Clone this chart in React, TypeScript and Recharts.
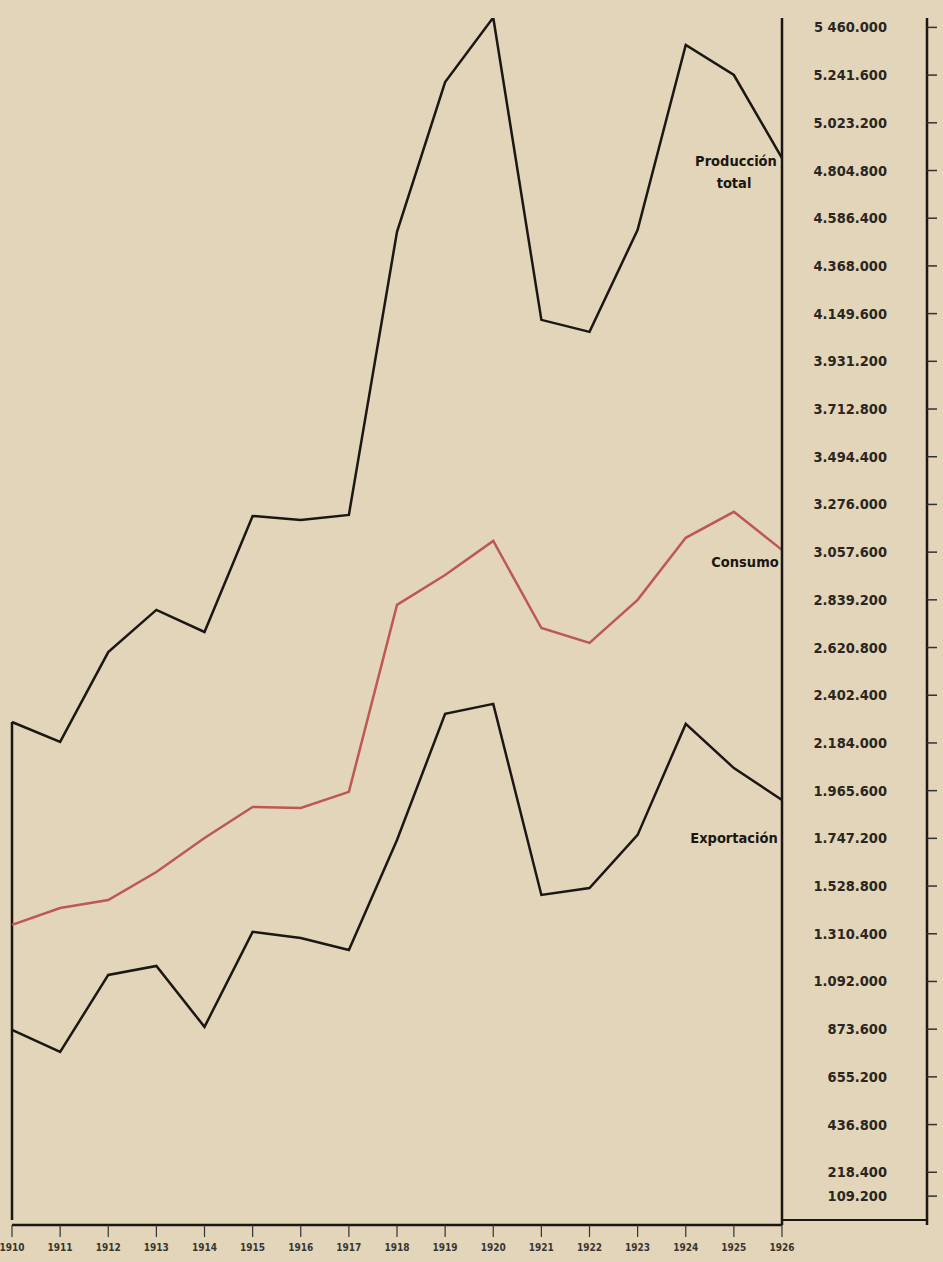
import React from "react";
import {
  LineChart,
  Line,
  XAxis,
  YAxis,
  ReferenceLine,
  LabelList,
} from "recharts";

const years = [
  "1910", "1911", "1912", "1913", "1914", "1915", "1916", "1917", "1918",
  "1919", "1920", "1921", "1922", "1923", "1924", "1925", "1926",
];
const produccion = [
  2280000, 2189000, 2600000, 2793000, 2692000, 3223000, 3205000, 3228000,
  4524000, 5210000, 5505000, 4121000, 4066000, 4533000, 5380000, 5242000,
  4862000,
];
const consumo = [
  1351000, 1428000, 1465000, 1593000, 1749000, 1891000, 1886000, 1960000,
  2816000, 2953000, 3109000, 2710000, 2642000, 2839000, 3123000, 3242000,
  3068000,
];
const exportacion = [
  870000, 769000, 1122000, 1163000, 884000, 1319000, 1291000, 1236000,
  1740000, 2317000, 2363000, 1488000, 1520000, 1763000, 2271000, 2069000,
  1923000,
];
const yTicks = [
  109200, 218400, 436800, 655200, 873600, 1092000, 1310400, 1528800,
  1747200, 1965600, 2184000, 2402400, 2620800, 2839200, 3057600, 3276000,
  3494400, 3712800, 3931200, 4149600, 4368000, 4586400, 4804800, 5023200,
  5241600, 5460000,
];
const yTickLabels = [
  "109.200", "218.400", "436.800", "655.200", "873.600", "1.092.000",
  "1.310.400", "1.528.800", "1.747.200", "1.965.600", "2.184.000",
  "2.402.400", "2.620.800", "2.839.200", "3.057.600", "3.276.000",
  "3.494.400", "3.712.800", "3.931.200", "4.149.600", "4.368.000",
  "4.586.400", "4.804.800", "5.023.200", "5.241.600", "5 460.000",
];

const data = years.map((year, i) => ({
  year,
  produccion: produccion[i],
  consumo: consumo[i],
  exportacion: exportacion[i],
}));

const ink = "#1a1714";
const paper = "#e3d5b9";
const labelFont = "'DejaVu Sans Condensed', 'DejaVu Sans', sans-serif";

function YTick(props: any) {
  const idx = yTicks.indexOf(props.payload.value);
  return (
    <text
      x={887}
      y={props.y}
      dy={5}
      textAnchor="end"
      fontFamily={labelFont}
      fontWeight="bold"
      fontSize={14.5}
      fill="#2a2622"
    >
      {idx >= 0 ? yTickLabels[idx] : ""}
    </text>
  );
}

function endLabel(lines: string[], dy: number, anchorX: number[]) {
  return (props: any) => {
    if (props.index !== years.length - 1) return null;
    return (
      <g>
        {lines.map((t, k) => (
          <text
            key={t}
            x={props.x - anchorX[k]}
            y={props.y + dy + k * 22}
            textAnchor="middle"
            fontFamily={labelFont}
            fontWeight="bold"
            fontSize={14.5}
            fill={ink}
          >
            {t}
          </text>
        ))}
      </g>
    );
  };
}

export default function App() {
  return (
    <div
      style={{
        position: "absolute",
        left: 0,
        top: 0,
        width: 943,
        height: 1262,
        background: paper,
      }}
    >
      <LineChart
        width={943}
        height={1262}
        data={data}
        margin={{ top: 18, right: 0, bottom: 0, left: 12 }}
      >
        <XAxis
          dataKey="year"
          height={37}
          padding={{ left: 0, right: 0 }}
          interval={0}
          axisLine={{ stroke: ink, strokeWidth: 2.5 }}
          tickLine={{ stroke: "#333", strokeWidth: 1.2 }}
          tickSize={12}
          tickMargin={7}
          tick={{
            fill: "#3a3530",
            fontSize: 10,
            fontWeight: "bold",
            fontFamily: labelFont,
          }}
        />
        <YAxis
          yAxisId="axis"
          orientation="right"
          width={145}
          type="number"
          domain={[-23000, 5503000]}
          allowDataOverflow
          ticks={yTicks}
          interval={0}
          axisLine={{ stroke: ink, strokeWidth: 2.5 }}
          tickLine={false}
          tick={<YTick />}
        />
        <YAxis
          yAxisId="frame"
          orientation="right"
          width={16}
          type="number"
          domain={[-23000, 5503000]}
          allowDataOverflow
          ticks={yTicks}
          interval={0}
          axisLine={{ stroke: ink, strokeWidth: 2.5 }}
          tickLine={{ stroke: "#333", strokeWidth: 1.5 }}
          tickSize={10}
          tick={() => <g />}
        />
        <ReferenceLine
          yAxisId="axis"
          segment={[
            { x: years[0], y: 0 },
            { x: years[0], y: produccion[0] },
          ]}
          stroke={ink}
          strokeWidth={2.5}
        />
        <Line
          yAxisId="axis"
          dataKey="produccion"
          stroke={ink}
          strokeWidth={2.5}
          dot={false}
          isAnimationActive={false}
        >
          <LabelList
            dataKey="produccion"
            content={endLabel(["Producción", "total"], 8, [46, 48])}
          />
        </Line>
        <Line
          yAxisId="axis"
          dataKey="consumo"
          stroke="#bd5853"
          strokeWidth={2.5}
          dot={false}
          isAnimationActive={false}
        >
          <LabelList
            dataKey="consumo"
            content={endLabel(["Consumo"], 17, [37])}
          />
        </Line>
        <Line
          yAxisId="axis"
          dataKey="exportacion"
          stroke={ink}
          strokeWidth={2.5}
          dot={false}
          isAnimationActive={false}
        >
          <LabelList
            dataKey="exportacion"
            content={endLabel(["Exportación"], 43, [48])}
          />
        </Line>
      </LineChart>
      <div
        style={{
          position: "absolute",
          left: 782,
          top: 1219,
          width: 146,
          borderTop: `2.5px solid ${ink}`,
        }}
      />
    </div>
  );
}
